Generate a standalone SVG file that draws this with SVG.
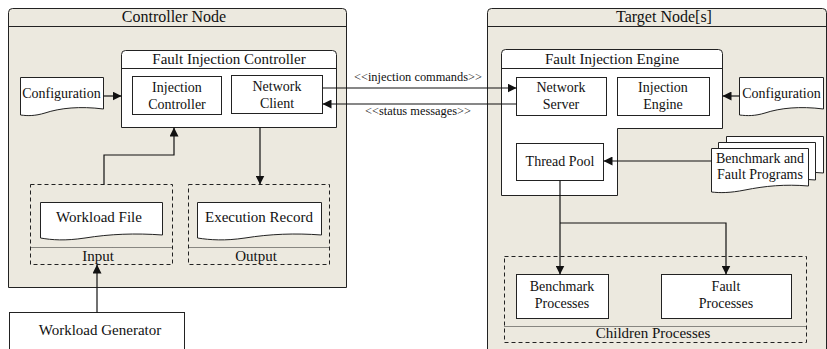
<svg xmlns="http://www.w3.org/2000/svg" width="827" height="349" viewBox="0 0 827 349">
<defs>
<style>
text{font-family:"Liberation Serif","Tinos","DejaVu Serif",serif;fill:#111;text-anchor:middle}
.t16{font-size:16px}.t15{font-size:15px}.t14{font-size:14px}.t12{font-size:12.4px}
.cont{fill:#ECE9DF;stroke:#222;stroke-width:1}
.box{fill:#fff;stroke:#222;stroke-width:1}
.dash{fill:none;stroke:#222;stroke-width:1;stroke-dasharray:4,3}
.dot{fill:none;stroke:#222;stroke-width:1;stroke-dasharray:1,1}
.sep{fill:none;stroke:#222;stroke-width:1}
.wire{fill:none;stroke:#111;stroke-width:1.2}
</style>
<marker id="ah" viewBox="0 0 10 10" refX="10" refY="5" markerWidth="9" markerHeight="9" markerUnits="userSpaceOnUse" orient="auto"><path d="M0,0 L10,5 L0,10 Z" fill="#111"/></marker>
</defs>

<g font-family="Liberation Serif, Tinos, DejaVu Serif, serif">
<g id="controller-node">
<path class="cont" d="M8.5,287.5 L8.5,12.5 Q8.5,8.5 12.5,8.5 L342.5,8.5 Q346.5,8.5 346.5,12.5 L346.5,287.5 Z"/>
<line class="sep" x1="8.5" y1="26.5" x2="346.5" y2="26.5"/>
<text class="t16" x="174" y="22">Controller Node</text>
</g>

<g id="target-node">
<path class="cont" d="M487.5,360 L487.5,12.5 Q487.5,8.5 491.5,8.5 L822.5,8.5 Q826.5,8.5 826.5,12.5 L826.5,360 Z"/>
<line class="sep" x1="487.5" y1="26.5" x2="826.5" y2="26.5"/>
<text class="t16" x="664" y="22">Target Node[s]</text>
</g>

<g id="fault-injection-controller">
<path class="box" d="M121.5,127.5 L121.5,54.5 Q121.5,50.5 125.5,50.5 L332.5,50.5 Q336.5,50.5 336.5,54.5 L336.5,127.5 Z"/>
<line class="sep" x1="121.5" y1="68.5" x2="336.5" y2="68.5"/>
<text class="t15" x="229" y="64">Fault Injection Controller</text>
</g>

<g id="injection-controller">
<rect class="box" x="132.5" y="76.5" width="89" height="38"/>
<text class="t14" x="177" y="92">Injection</text>
<text class="t14" x="177" y="109">Controller</text>
</g>

<g id="network-client">
<rect class="box" x="231.5" y="75.5" width="91" height="38"/>
<text class="t14" x="277" y="91">Network</text>
<text class="t14" x="277" y="108">Client</text>
</g>

<g id="configuration-ctrl">
<path class="box" d="M20.5,77.5 L103.5,77.5 L103.5,109 C80,106 60,108 45,113 C35,116 28,116 20.5,115 Z"/>
<text class="t14" x="61.5" y="98">Configuration</text>
</g>

<g id="input">
<rect class="dash" x="30.5" y="184.5" width="142" height="80"/>
<line class="dot" x1="30.5" y1="247.5" x2="172.5" y2="247.5"/>
<text class="t15" x="98" y="261">Input</text>
</g>

<g id="workload-file">
<path class="box" d="M40.5,202.5 L162.5,202.5 L162.5,235 C135,233 110,234 85,238 C65,241 52,240 40.5,238 Z"/>
<text class="t15" x="99" y="222">Workload File</text>
</g>

<g id="output">
<rect class="dash" x="188.5" y="184.5" width="141" height="80"/>
<line class="dot" x1="188.5" y1="247.5" x2="329.5" y2="247.5"/>
<text class="t15" x="256" y="261">Output</text>
</g>

<g id="execution-record">
<path class="box" d="M197.5,202.5 L321.5,202.5 L321.5,235 C295,233 270,234 245,238 C225,241 210,240 197.5,238 Z"/>
<text class="t15" x="259" y="222">Execution Record</text>
</g>

<g id="workload-generator">
<rect class="box" x="9.5" y="312.5" width="175" height="50"/>
<text class="t15" x="100" y="335">Workload Generator</text>
</g>

<g id="fault-injection-engine">
<path class="box" d="M501.5,195.5 L501.5,53.5 Q501.5,49.5 505.5,49.5 L718.5,49.5 Q722.5,49.5 722.5,53.5 L722.5,128.5 L617.5,128.5 L617.5,195.5 Z"/>
<line class="sep" x1="501.5" y1="68.5" x2="722.5" y2="68.5"/>
<text class="t15" x="612" y="64">Fault Injection Engine</text>
</g>

<g id="network-server">
<rect class="box" x="516.5" y="77.5" width="90" height="38"/>
<text class="t14" x="561" y="92">Network</text>
<text class="t14" x="561" y="109">Server</text>
</g>

<g id="injection-engine">
<rect class="box" x="617.5" y="77.5" width="92" height="38"/>
<text class="t14" x="663" y="92">Injection</text>
<text class="t14" x="663" y="109">Engine</text>
</g>

<g id="thread-pool">
<rect class="box" x="516.5" y="143.5" width="87" height="37"/>
<text class="t14" x="560" y="166">Thread Pool</text>
</g>

<g id="configuration-target">
<path class="box" d="M739.5,77.5 L823.5,77.5 L823.5,109 C800,106 780,108 765,113 C755,116 748,116 739.5,115 Z"/>
<text class="t14" x="781.5" y="98">Configuration</text>
</g>

<g id="benchmark-fault-programs">
<path class="box" d="M726.5,136.5 L823.5,136.5 L823.5,173 C800,171 780,173 760,177 C745,180 735,180 726.5,179 Z"/>
<path class="box" d="M718.5,142.5 L815.5,142.5 L815.5,180 C792,178 772,180 752,184 C737,187 727,187 718.5,186 Z"/>
<path class="box" d="M711.5,148.5 L808.5,148.5 L808.5,186 C785,184 765,186 745,190 C730,193 720,193 711.5,192 Z"/>
<text class="t14" x="760" y="163">Benchmark and</text>
<text class="t14" x="760" y="179">Fault Programs</text>
</g>

<g id="children-processes">
<rect class="dash" x="504.5" y="256.5" width="302" height="86"/>
<line class="dot" x1="504.5" y1="326.5" x2="806.5" y2="326.5"/>
<text class="t15" x="653" y="338">Children Processes</text>
</g>

<g id="benchmark-processes">
<rect class="box" x="516.5" y="274.5" width="92" height="44"/>
<text class="t14" x="562" y="291">Benchmark</text>
<text class="t14" x="562" y="308">Processes</text>
</g>

<g id="fault-processes">
<rect class="box" x="661.5" y="274.5" width="130" height="44"/>
<text class="t14" x="726" y="291">Fault</text>
<text class="t14" x="726" y="308">Processes</text>
</g>

<g id="connectors">
<line class="wire" x1="103.5" y1="96" x2="121.5" y2="96" marker-end="url(#ah)"/>
<line class="wire" x1="322.5" y1="88" x2="516.5" y2="88" marker-end="url(#ah)"/>
<line class="wire" x1="516.5" y1="104" x2="322.5" y2="104" marker-end="url(#ah)"/>
<text class="t12" x="418" y="81">&lt;&lt;injection commands&gt;&gt;</text>
<text class="t12" x="418" y="115">&lt;&lt;status messages&gt;&gt;</text>
<polyline class="wire" points="104,184.5 104,155 174,155 174,127.5" marker-end="url(#ah)"/>
<line class="wire" x1="260" y1="127.5" x2="260" y2="184.5" marker-end="url(#ah)"/>
<line class="wire" x1="97" y1="312.5" x2="97" y2="264.5" marker-end="url(#ah)"/>
<line class="wire" x1="739.5" y1="96" x2="722.5" y2="96" marker-end="url(#ah)"/>
<line class="wire" x1="711.5" y1="161" x2="603.5" y2="161" marker-end="url(#ah)"/>
<line class="wire" x1="560" y1="180.5" x2="560" y2="274.5" marker-end="url(#ah)"/>
<polyline class="wire" points="560,223 726,223 726,274.5" marker-end="url(#ah)"/>
</g>
</g>
</svg>
